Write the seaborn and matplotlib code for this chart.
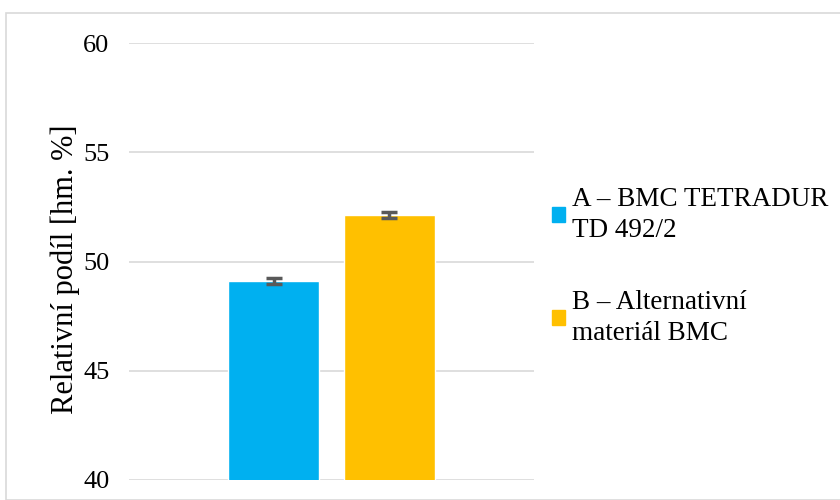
import pandas as pd
import seaborn as sns
import matplotlib.pyplot as plt
from matplotlib.patches import Rectangle

labels = ["A – BMC TETRADUR\nTD 492/2", "B – Alternativní\nmateriál BMC"]
values = [49.1, 52.13]
errors = [0.15, 0.15]
colors = ["#00B0F0", "#FFC000"]
yticks = [40, 45, 50, 55, 60]

df = pd.DataFrame({"grp": ["", ""], "val": values, "label": labels})

sns.set_theme(style="white")
plt.rcParams['font.family'] = ['Liberation Serif', 'DejaVu Serif']
plt.rcParams['text.color'] = 'black'
plt.rcParams['axes.labelcolor'] = 'black'
plt.rcParams['ytick.color'] = 'black'

fig = plt.figure(figsize=(8.4, 5), dpi=100)
ax = fig.add_axes([129 / 840, 1 - 480 / 500, 405 / 840, 437 / 500])

sns.barplot(data=df, x="grp", y="val", hue="label", palette=colors,
            width=0.568, gap=0.209, ax=ax, legend=False, saturation=1)

# error bars at the bar centres
for patch, val, err in zip(ax.patches, values, errors):
    cx = patch.get_x() + patch.get_width() / 2
    ax.errorbar(cx, val, yerr=err, fmt="none", ecolor="#595959",
                elinewidth=2.5, capsize=6, capthick=2.5, zorder=5)

ax.set_xlim(-0.5, 0.5)
ax.set_ylim(40, 60)
ax.set_yticks(yticks)
ax.set_xticks([])
ax.set_xlabel("")
ax.set_ylabel("Relativní podíl [hm. %]", fontsize=22)
ax.yaxis.set_label_coords(-0.12, 0.483)
ax.tick_params(axis="y", labelsize=19, length=0, pad=14)
ax.yaxis.grid(True, color="#D9D9D9", linewidth=1.2)
ax.set_axisbelow(True)
for s in ax.spines.values():
    s.set_visible(False)

handles = [Rectangle((0, 0), 1, 1, color=c) for c in colors]
leg = fig.legend(handles, labels, loc="upper left", bbox_to_anchor=(541 / 840, 1 - 176 / 500),
                 frameon=False, fontsize=19.5, handlelength=0.5, handleheight=0.5,
                 handletextpad=0.25, labelspacing=1.75, borderaxespad=0)
for t in leg.get_texts():
    t.set_linespacing(1.3)

# chart border
fig.patches.append(Rectangle((6 / 840, 0), 1.1, 1 - 13 / 500, transform=fig.transFigure,
                             fill=False, edgecolor="#D9D9D9", linewidth=1.2))

fig.savefig("out.png", dpi=100)
